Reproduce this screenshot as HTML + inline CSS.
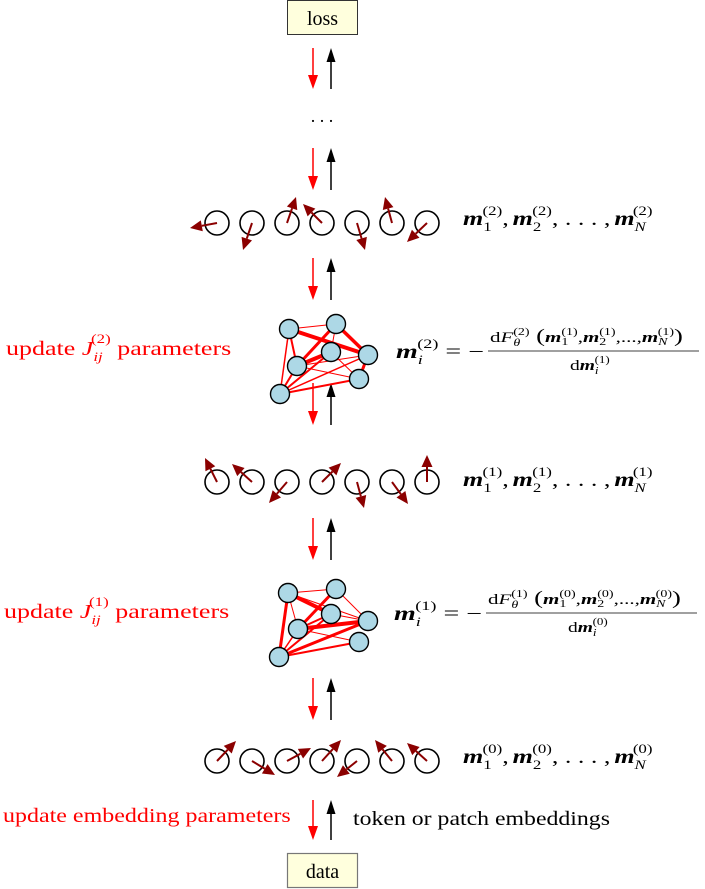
<!DOCTYPE html>
<html><head><meta charset="utf-8">
<style>
html,body{margin:0;padding:0;background:#fff;}
svg{display:block;}
text{font-family:"Liberation Serif",serif;}
.r{fill:#ff0000;}
.m{font-weight:bold;font-style:italic;}
</style></head>
<body>
<svg id="s" width="705" height="889" viewBox="0 0 705 889" xmlns="http://www.w3.org/2000/svg">
<rect x="287.5" y="0.5" width="70" height="34" fill="#ffffdd" stroke="#333" stroke-width="1"/>
<text x="322.5" y="25" font-size="20" text-anchor="middle">loss</text>
<rect x="287.5" y="853.5" width="70" height="34" fill="#ffffdd" stroke="#777" stroke-width="1.2"/>
<text x="322.5" y="878" font-size="20" text-anchor="middle">data</text>
<text x="322" y="122" font-size="18" text-anchor="middle">. . .</text>

<g id="arrows"></g>
<g id="g1"></g>
<g id="g2"></g>
<g id="spins"></g>

<!-- sequence labels -->
<g transform="translate(463,0) scale(1.3,1) translate(-463,0)">
<text x="463" y="225" font-size="20"><tspan class="m">m</tspan><tspan font-size="13" dy="6">1</tspan><tspan font-size="13" dx="-7" dy="-16">(2)</tspan><tspan dy="10">,</tspan><tspan class="m" dx="3">m</tspan><tspan font-size="13" dy="6">2</tspan><tspan font-size="13" dx="-7" dy="-16">(2)</tspan><tspan dy="10">, . . . ,</tspan><tspan class="m" dx="3">m</tspan><tspan font-size="13" font-style="italic" dy="6">N</tspan><tspan font-size="13" dx="-10" dy="-16">(2)</tspan></text>
<text x="463" y="486" font-size="20"><tspan class="m">m</tspan><tspan font-size="13" dy="6">1</tspan><tspan font-size="13" dx="-7" dy="-16">(1)</tspan><tspan dy="10">,</tspan><tspan class="m" dx="3">m</tspan><tspan font-size="13" dy="6">2</tspan><tspan font-size="13" dx="-7" dy="-16">(1)</tspan><tspan dy="10">, . . . ,</tspan><tspan class="m" dx="3">m</tspan><tspan font-size="13" font-style="italic" dy="6">N</tspan><tspan font-size="13" dx="-10" dy="-16">(1)</tspan></text>
<text x="463" y="763" font-size="20"><tspan class="m">m</tspan><tspan font-size="13" dy="6">1</tspan><tspan font-size="13" dx="-7" dy="-16">(0)</tspan><tspan dy="10">,</tspan><tspan class="m" dx="3">m</tspan><tspan font-size="13" dy="6">2</tspan><tspan font-size="13" dx="-7" dy="-16">(0)</tspan><tspan dy="10">, . . . ,</tspan><tspan class="m" dx="3">m</tspan><tspan font-size="13" font-style="italic" dy="6">N</tspan><tspan font-size="13" dx="-10" dy="-16">(0)</tspan></text>
</g>

<!-- left labels -->
<g transform="translate(6,0) scale(1.3,1) translate(-6,0)">
<text x="6" y="355" font-size="20" class="r">update <tspan font-style="italic">J</tspan><tspan font-size="13" font-style="italic" dy="6">ij</tspan><tspan font-size="13" dx="-9" dy="-18">(2)</tspan><tspan dy="12"> parameters</tspan></text>
</g>
<g transform="translate(4,0) scale(1.3,1) translate(-4,0)">
<text x="4" y="618" font-size="20" class="r">update <tspan font-style="italic">J</tspan><tspan font-size="13" font-style="italic" dy="6">ij</tspan><tspan font-size="13" dx="-9" dy="-18">(1)</tspan><tspan dy="12"> parameters</tspan></text>
</g>
<g transform="translate(3,0) scale(1.2,1) translate(-3,0)">
<text x="3" y="822" font-size="20" class="r">update embedding parameters</text>
</g>
<g transform="translate(353,0) scale(1.19,1) translate(-353,0)">
<text x="353" y="825" font-size="20">token or patch embeddings</text>
</g>

<!-- equations -->
<g transform="translate(396,0) scale(1.4,1) translate(-396,0)">
<text x="396" y="358" font-size="20"><tspan class="m">m</tspan><tspan font-size="13" font-style="italic" dy="6">i</tspan><tspan font-size="13" dx="-4" dy="-16">(2)</tspan><tspan dy="10"> = −</tspan></text>
</g>
<line x1="488" y1="351" x2="699" y2="351" stroke="#000" stroke-width="0.8"/>
<g transform="translate(490,0) scale(1.4,1) translate(-490,0)">
<text x="490" y="342" font-size="15">d<tspan font-style="italic">F</tspan><tspan font-size="10" font-style="italic" dy="4">θ</tspan><tspan font-size="10" dx="-5" dy="-11">(2)</tspan><tspan dy="7" font-size="19"> (</tspan><tspan class="m">m</tspan><tspan font-size="10" dy="3">1</tspan><tspan font-size="10" dx="-5" dy="-10">(1)</tspan><tspan dy="7">,</tspan><tspan class="m">m</tspan><tspan font-size="10" dy="3">2</tspan><tspan font-size="10" dx="-5" dy="-10">(1)</tspan><tspan dy="7">,...,</tspan><tspan class="m">m</tspan><tspan font-size="10" font-style="italic" dy="3">N</tspan><tspan font-size="10" dx="-7" dy="-10">(1)</tspan><tspan dy="7" font-size="19">)</tspan></text>
</g>
<g transform="translate(570,0) scale(1.3,1) translate(-570,0)">
<text x="570" y="370" font-size="15">d<tspan class="m">m</tspan><tspan font-size="10" font-style="italic" dy="4">i</tspan><tspan font-size="10" dx="-3" dy="-11">(1)</tspan></text>
</g>

<g transform="translate(394,0) scale(1.4,1) translate(-394,0)">
<text x="394" y="620" font-size="20"><tspan class="m">m</tspan><tspan font-size="13" font-style="italic" dy="6">i</tspan><tspan font-size="13" dx="-4" dy="-16">(1)</tspan><tspan dy="10"> = −</tspan></text>
</g>
<line x1="486" y1="613" x2="697" y2="613" stroke="#000" stroke-width="0.8"/>
<g transform="translate(488,0) scale(1.4,1) translate(-488,0)">
<text x="488" y="604" font-size="15">d<tspan font-style="italic">F</tspan><tspan font-size="10" font-style="italic" dy="4">θ</tspan><tspan font-size="10" dx="-5" dy="-11">(1)</tspan><tspan dy="7" font-size="19"> (</tspan><tspan class="m">m</tspan><tspan font-size="10" dy="3">1</tspan><tspan font-size="10" dx="-5" dy="-10">(0)</tspan><tspan dy="7">,</tspan><tspan class="m">m</tspan><tspan font-size="10" dy="3">2</tspan><tspan font-size="10" dx="-5" dy="-10">(0)</tspan><tspan dy="7">,...,</tspan><tspan class="m">m</tspan><tspan font-size="10" font-style="italic" dy="3">N</tspan><tspan font-size="10" dx="-7" dy="-10">(0)</tspan><tspan dy="7" font-size="19">)</tspan></text>
</g>
<g transform="translate(568,0) scale(1.3,1) translate(-568,0)">
<text x="568" y="632" font-size="15">d<tspan class="m">m</tspan><tspan font-size="10" font-style="italic" dy="4">i</tspan><tspan font-size="10" dx="-3" dy="-11">(0)</tspan></text>
</g>
</svg>
<script>
var NS="http://www.w3.org/2000/svg";
function el(p,t,a){var e=document.createElementNS(NS,t);for(var k in a)e.setAttribute(k,a[k]);document.getElementById(p).appendChild(e);return e;}
function arrow(p,x1,y1,x2,y2,col,w,hl,hw){
  var dx=x2-x1,dy=y2-y1,L=Math.hypot(dx,dy),ux=dx/L,uy=dy/L;
  var bx=x2-ux*hl,by=y2-uy*hl;
  el(p,"line",{x1:x1,y1:y1,x2:bx,y2:by,stroke:col,"stroke-width":w});
  el(p,"polygon",{points:x2+","+y2+" "+(bx-uy*hw/2)+","+(by+ux*hw/2)+" "+(bx+uy*hw/2)+","+(by-ux*hw/2),fill:col});
}
[[48,89],[148,190],[258,300],[383,425],[518,560],[678,720],[800,840]].forEach(function(r){
  arrow("arrows",313,r[0],313,r[1],"#ff0000",1.5,14,10);
  arrow("arrows",331,r[1],331,r[0],"#000",1.5,14,9);
});
var xs=[217,252,287,322,357,392,427];
var rows=[[223,[[190,228],[243,250],[296,197],[303,204],[365,250],[385,197],[407,242]]],
[482,[[205,458],[232,464],[269,503],[341,463],[364,508],[408,504],[427,455]]],
[761,[[236,741],[275,775],[311,748],[341,740],[337,777],[375,740],[407,743]]]];
rows.forEach(function(r){
  xs.forEach(function(x,i){
    el("spins","circle",{cx:x,cy:r[0],r:12,fill:"none",stroke:"#000","stroke-width":1.6});
  });
  xs.forEach(function(x,i){
    arrow("spins",x,r[0],r[1][i][0],r[1][i][1],"#8b0000",2,12,11);
  });
});
function graph(g,N,E){
  E.forEach(function(e){var a=N[e[0]],b=N[e[1]];el(g,"line",{x1:a[0],y1:a[1],x2:b[0],y2:b[1],stroke:"#ff0000","stroke-width":e[2]});});
  for(var k in N)el(g,"circle",{cx:N[k][0],cy:N[k][1],r:9.5,fill:"#add8e6",stroke:"#000","stroke-width":1.4});
}
graph("g1",{A:[289,329],B:[336,324],C:[331,352],D:[297,366],E:[368,355],F:[359,379],G:[280,394]},
[["A","B",1],["A","E",4],["A","D",2],["A","G",1.5],["B","E",3.5],["B","D",3],["B","C",1],["C","D",4],["C","F",1],["D","F",1],["D","G",2],["G","C",2],["G","F",2],["G","E",1.5],["E","F",3],["D","E",1]]);
graph("g2",{A:[288,593],B:[336,589],C:[331,614],D:[298,629],E:[368,621],F:[359,642],G:[279,657]},
[["A","B",1],["A","C",4],["A","G",3],["A","D",1],["B","D",3],["B","E",1],["C","E",1],["D","E",4],["D","F",1],["G","E",3],["G","F",2],["G","C",2],["G","D",1.5],["A","E",1],["C","D",2]]);
</script>
</body></html>
